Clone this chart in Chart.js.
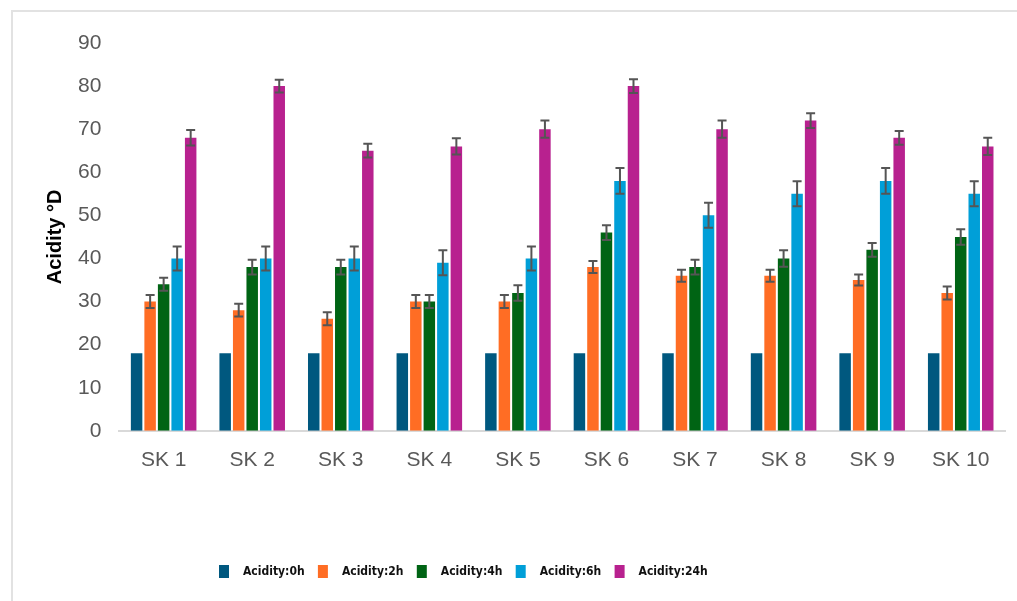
<!DOCTYPE html>
<html>
<head>
<meta charset="utf-8">
<script src="https://cdn.jsdelivr.net/npm/chart.js@4"></script>
<style>
  body { margin: 0; background: #fff; }
  #frame {
    position: absolute; left: 11px; top: 10px; width: 1006px; height: 591px;
    border-left: 2px solid #e2e2e2; border-top: 2px solid #e2e2e2;
  }
  #wrap { position: absolute; left: 0; top: 0; width: 1017px; height: 601px; }
</style>
</head>
<body>
<div id="frame"></div>
<div id="wrap"><canvas id="myChart"></canvas></div>
<script>
const ctx = document.getElementById('myChart').getContext('2d');

const labels = ["SK 1", "SK 2", "SK 3", "SK 4", "SK 5", "SK 6", "SK 7", "SK 8", "SK 9", "SK 10"];
const seriesNames = ["Acidity:0h", "Acidity:2h", "Acidity:4h", "Acidity:6h", "Acidity:24h"];
const colors = ['#00587f', '#ff6d24', '#006414', '#009fd8', '#b8218f'];

const acid0h = [18, 18, 18, 18, 18, 18, 18, 18, 18, 18];
const acid2h = [30, 28, 26, 30, 30, 38, 36, 36, 35, 32];
const acid4h = [34, 38, 38, 30, 32, 46, 38, 40, 42, 45];
const acid6h = [40, 40, 40, 39, 40, 58, 50, 55, 58, 55];
const acid24h = [68, 80, 65, 66, 70, 80, 70, 72, 68, 66];

// standard deviations (0h has none drawn)
const err0h = [0, 0, 0, 0, 0, 0, 0, 0, 0, 0];
const err2h = [1.5, 1.5, 1.5, 1.5, 1.5, 1.4, 1.4, 1.4, 1.3, 1.5];
const err4h = [1.5, 1.7, 1.7, 1.5, 1.8, 1.7, 1.7, 1.9, 1.6, 1.8];
const err6h = [2.8, 2.8, 2.8, 2.9, 2.8, 3, 2.9, 2.9, 3, 2.9];
const err24h = [1.8, 1.5, 1.6, 1.9, 2, 1.6, 2, 1.7, 1.6, 2];

const yTicks = [0, 10, 20, 30, 40, 50, 60, 70, 80, 90];

const values = [acid0h, acid2h, acid4h, acid6h, acid24h];
const errors = [err0h, err2h, err4h, err6h, err24h];

const data = {
    labels,
    datasets: values.map((v, i) => ({
        label: seriesNames[i],
        data: v,
        errors: errors[i],
        backgroundColor: colors[i],
        categoryPercentage: 0.763,
        barPercentage: 0.85
    }))
};

const errorBars = {
    id: 'errorBars',
    afterDatasetsDraw(chart) {
        const c = chart.ctx;
        const y = chart.scales.y;
        c.save();
        c.strokeStyle = '#555';
        c.lineWidth = 2;
        chart.data.datasets.forEach((ds, i) => {
            const meta = chart.getDatasetMeta(i);
            meta.data.forEach((bar, j) => {
                const e = ds.errors[j];
                if (!e) return;
                const top = y.getPixelForValue(ds.data[j] + e);
                const bot = y.getPixelForValue(ds.data[j] - e);
                const half = 4.5;
                c.beginPath();
                c.moveTo(bar.x, top); c.lineTo(bar.x, bot);
                c.moveTo(bar.x - half, top); c.lineTo(bar.x + half, top);
                c.moveTo(bar.x - half, bot); c.lineTo(bar.x + half, bot);
                c.stroke();
            });
        });
        c.restore();
    }
};

const bottomLegend = {
    id: 'bottomLegend',
    afterDraw(chart) {
        const c = chart.ctx;
        c.save();
        c.font = 'bold 12px "DejaVu Sans Condensed"';
        c.textBaseline = 'middle';
        chart.data.datasets.forEach((ds, i) => {
            const x = 219 + i * 98.9;
            c.fillStyle = ds.backgroundColor;
            c.fillRect(x, 565, 10, 13);
            c.fillStyle = '#111';
            c.fillText(ds.label, x + 24, 572);
        });
        c.restore();
    }
};

const config = {
    type: 'bar',
    data: data,
    plugins: [errorBars, bottomLegend],
    options: {
        responsive: true,
        maintainAspectRatio: false,
        animation: false,
        layout: { padding: { top: 43, left: 37, right: 12, bottom: 111 } },
        plugins: {
            legend: { display: false },
            tooltip: { enabled: false }
        },
        scales: {
            x: {
                grid: { display: false, drawTicks: false },
                border: { color: '#d9d9d9', width: 2 },
                ticks: {
                    padding: 17,
                    color: '#595959',
                    font: { family: 'Liberation Sans', size: 21 }
                }
            },
            y: {
                min: 0,
                max: 90,
                afterBuildTicks: (axis) => { axis.ticks = yTicks.map(v => ({ value: v })); },
                grid: { display: false, drawTicks: false },
                border: { display: false },
                ticks: {
                    padding: 18,
                    color: '#595959',
                    font: { family: 'Liberation Sans', size: 21 }
                },
                title: {
                    display: true,
                    text: 'Acidity °D',
                    color: '#000',
                    padding: { top: 6, bottom: -7 },
                    font: { family: 'Liberation Sans', size: 20, weight: 'bold' }
                }
            }
        }
    }
};

const myChart = new Chart(ctx, config);
</script>
</body>
</html>
